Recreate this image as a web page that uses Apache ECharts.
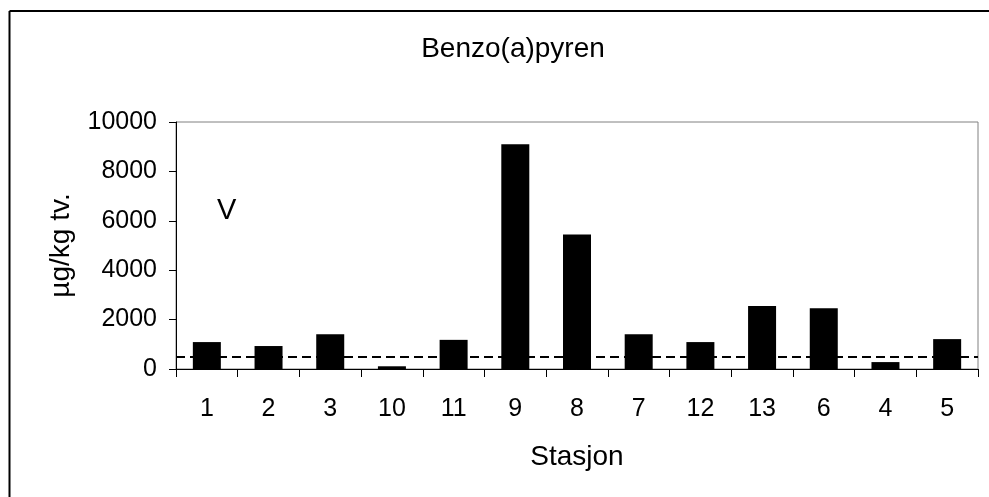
<!DOCTYPE html>
<html>
<head>
<meta charset="utf-8">
<script src="https://cdn.jsdelivr.net/npm/echarts@6/dist/echarts.min.js"></script>
<style>
html,body{margin:0;padding:0;background:#fff;}
#c{width:989px;height:497px;}
</style>
</head>
<body>
<div id="c"></div>
<script>
const titleText = 'Benzo(a)pyren';
const xName = 'Stasjon';
const yName = 'µg/kg tv.';
const annotation = 'V';
const stations = ['1','2','3','10','11','9','8','7','12','13','6','4','5'];
const values = [1090, 930, 1410, 110, 1180, 9100, 5450, 1410, 1090, 2550, 2460, 280, 1210];
const threshold = 500;
const yTicks = {min: 0, max: 10000, interval: 2000};

const FONT = 'Liberation Sans, Arial, sans-serif';
const chart = echarts.init(document.getElementById('c'));
chart.setOption({
  animation: false,
  backgroundColor: '#fff',
  title: {
    text: titleText,
    left: 508, top: 30, textAlign: 'center',
    textStyle: {fontFamily: FONT, fontSize: 28, fontWeight: 'normal', color: '#000'}
  },
  grid: {
    left: 176, right: 11, top: 122, bottom: 128,
    show: true, borderColor: '#808080', borderWidth: 1, backgroundColor: '#fff'
  },
  xAxis: {
    type: 'category',
    data: stations,
    name: xName,
    nameLocation: 'middle',
    nameGap: 74,
    nameTextStyle: {fontFamily: FONT, fontSize: 28, color: '#000'},
    axisLine: {lineStyle: {color: '#000', width: 1}},
    axisTick: {show: true, length: 8, inside: false, lineStyle: {color: '#000'}},
    axisLabel: {fontFamily: FONT, fontSize: 25, color: '#000', margin: 28, interval: 0},
    splitLine: {show: false}
  },
  yAxis: {
    type: 'value',
    min: yTicks.min, max: yTicks.max, interval: yTicks.interval,
    name: yName,
    nameLocation: 'middle',
    nameGap: 101,
    nameRotate: 90,
    nameTextStyle: {fontFamily: FONT, fontSize: 28, color: '#000'},
    axisLine: {show: true, lineStyle: {color: '#000', width: 1}},
    axisTick: {show: true, length: 7, inside: false, lineStyle: {color: '#000'}},
    axisLabel: {fontFamily: FONT, fontSize: 25, color: '#000', margin: 19, formatter: v => String(v)},
    splitLine: {show: false}
  },
  series: [{
    type: 'bar',
    data: values,
    barWidth: 28,
    itemStyle: {color: '#000'},
    markLine: {
      silent: true,
      symbol: ['none', 'none'],
      label: {show: false},
      lineStyle: {color: '#000', type: [9, 5], width: 2},
      data: [{yAxis: threshold}]
    }
  }],
  graphic: [
    {type: 'line', shape: {x1: 9.5, y1: 11, x2: 9.5, y2: 497}, style: {stroke: '#000', lineWidth: 2}},
    {type: 'line', shape: {x1: 9.5, y1: 11, x2: 989, y2: 11}, style: {stroke: '#000', lineWidth: 2}},
    {type: 'text', left: 217, top: 196, style: {text: annotation, font: '29px ' + FONT, fill: '#000'}}
  ]
});
</script>
</body>
</html>
